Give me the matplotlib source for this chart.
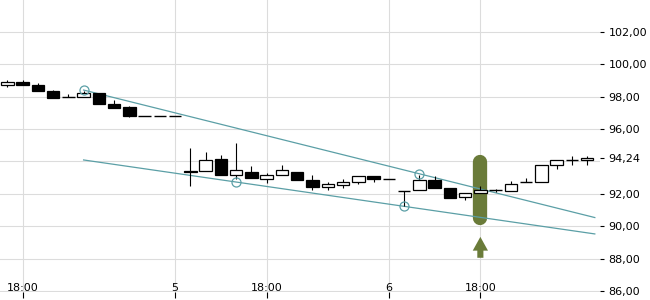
import numpy as np
import matplotlib.pyplot as plt
from matplotlib.ticker import MultipleLocator

# OHLC per candle
opens = np.array([98.68, 98.92, 98.72, 98.31, 97.96, 97.96, 98.21, 97.55, 97.35, 96.81,
                  96.81, 96.81, 93.43, 93.38, 94.15, 93.16, 93.35, 92.94, 93.16, 93.35,
                  92.87, 92.42, 92.55, 92.73, 93.12, 92.92, 92.20, 92.26, 92.87, 92.36,
                  91.83, 92.06, 92.24, 92.15, 92.72, 92.71, 93.75, 94.06, 94.06])
highs = np.array([99.03, 99.03, 98.82, 98.39, 98.15, 98.31, 98.21, 97.80, 97.43, 96.81,
                  96.81, 96.81, 94.82, 94.58, 94.41, 95.13, 93.74, 93.29, 93.80, 93.35,
                  93.18, 92.75, 92.92, 93.12, 93.12, 92.92, 92.20, 93.18, 93.12, 92.36,
                  92.06, 92.50, 92.32, 92.77, 92.98, 93.80, 94.06, 94.31, 94.31])
lows = np.array([98.58, 98.70, 98.35, 97.94, 97.96, 97.96, 97.53, 97.32, 96.71, 96.81,
                 96.81, 96.81, 92.46, 93.38, 93.16, 92.92, 92.98, 92.67, 93.16, 92.87,
                 92.22, 92.22, 92.36, 92.63, 92.75, 92.92, 91.23, 92.26, 92.36, 91.75,
                 91.60, 92.06, 92.12, 92.15, 92.72, 92.71, 93.53, 93.75, 93.80])
closes = np.array([98.89, 98.70, 98.35, 97.94, 97.96, 98.21, 97.53, 97.32, 96.77, 96.81,
                   96.81, 96.81, 93.33, 94.06, 93.16, 93.45, 92.98, 93.18, 93.49, 92.87,
                   92.40, 92.63, 92.75, 93.12, 92.94, 92.92, 92.20, 92.83, 92.36, 91.75,
                   92.06, 92.24, 92.24, 92.63, 92.74, 93.80, 94.06, 94.06, 94.24])

tick_idx = [1, 11, 17, 25, 31]
tick_labels = ['18:00', '5', '18:00', '6', '18:00']
price_ticks = [86, 88, 90, 92, 96, 98, 100, 102]

# trend channel
upper_x = [5, 38.5]
upper_y = [98.40, 90.54]
lower_x = [5, 38.5]
lower_y = [94.09, 89.53]
touch_x = [5, 15, 26, 27]
touch_y = [98.40, 92.73, 91.23, 93.24]

# buy signal
signal_idx = 31
signal_top = 93.98
signal_bottom = 90.54
arrow_base = 88.06
arrow_tip = 89.35

teal = '#5b9fa6'
green = '#6a7b39'
gridc = '#dcdcdc'

fig = plt.figure(figsize=(6.5, 3), dpi=100)
ax = fig.add_axes([0, 0.0277, 600 / 650, 1 - 0.0277])

x = np.arange(len(closes))

# signal bar + arrow
ax.plot([signal_idx, signal_idx], [signal_bottom, signal_top], color=green, lw=10.3,
        solid_capstyle='round', zorder=2)
ax.arrow(signal_idx, arrow_base, 0, arrow_tip - arrow_base, width=0.4, head_width=1.0,
         head_length=0.85, length_includes_head=True, color=green, lw=0, zorder=2)

# channel lines
ax.plot(upper_x, upper_y, color=teal, lw=0.9, zorder=3)
ax.plot(lower_x, lower_y, color=teal, lw=0.9, zorder=3)
ax.plot(touch_x, touch_y, 'o', ms=6.5, mfc='none', mec=teal, mew=0.9, zorder=6)

# candles
ax.vlines(x, lows, highs, color='black', lw=0.8, zorder=4)
for i in x:
    o, c = opens[i], closes[i]
    if abs(c - o) < 0.03:
        ax.hlines(o, i - 0.41, i + 0.41, color='black', lw=1.0, zorder=5)
    else:
        ax.bar(i, c - o, bottom=o, width=0.82, facecolor='white' if c > o else 'black',
               edgecolor='black', lw=0.9, zorder=5)

ax.set_xlim(-0.478, 38.84)
ax.set_ylim(85.97, 103.95)

ax.set_xticks(tick_idx, tick_labels)
ax.grid(axis='x', color=gridc, lw=0.8)

yt = price_ticks + [closes[-1]]
ax.yaxis.tick_right()
ax.set_yticks(yt, ['{:.2f}'.format(v).replace('.', ',') for v in yt])
ax.yaxis.set_minor_locator(MultipleLocator(2))
ax.yaxis.remove_overlapping_locs = False
ax.grid(axis='y', which='minor', color=gridc, lw=0.8)
ax.grid(axis='y', which='major', visible=False)
ax.tick_params(axis='y', which='minor', length=0)
ax.tick_params(axis='y', which='major', direction='out', length=3, pad=3, labelsize=8)
ax.tick_params(axis='x', direction='out', length=4, pad=-10.5, labelsize=8)
ax.set_axisbelow(True)
for s in ax.spines.values():
    s.set_visible(False)

fig.savefig('out.png', dpi=100)
